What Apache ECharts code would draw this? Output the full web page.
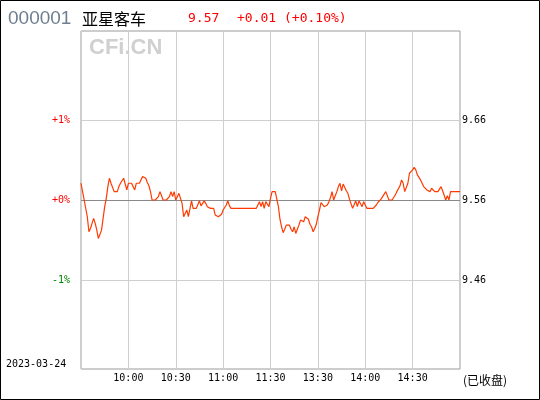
<!DOCTYPE html>
<html>
<head>
<meta charset="utf-8">
<script src="https://cdn.jsdelivr.net/npm/echarts@6/dist/echarts.min.js"></script>
<style>
html,body{margin:0;padding:0;background:#fff;}
#chart{width:540px;height:400px;}
</style>
</head>
<body>
<div id="chart"></div>
<script>
// ---- data ----
const stockCode = '000001';
const stockName = '亚星客车';
const lastPrice = '9.57';
const change = '+0.01';
const changePct = '(+0.10%)';
const tradeDate = '2023-03-24';
const statusText = '(已收盘)';
const prevClose = 9.56;
const timeLabels = ['10:00', '10:30', '11:00', '11:30', '13:30', '14:00', '14:30'];
const pctTicks = [-1, 0, 1];
// one price per minute, 241 points (09:30 .. 15:00)
const prices = [
  9.58, 9.57, 9.56, 9.56, 9.54, 9.522, 9.526, 9.532, 9.538, 9.532,
  9.524, 9.514, 9.512, 9.524, 9.525, 9.552, 9.562, 9.576, 9.586, 9.58,
  9.58, 9.57, 9.57, 9.57, 9.576, 9.58, 9.58, 9.586, 9.588, 9.572,
  9.58, 9.58, 9.58, 9.58, 9.572, 9.58, 9.58, 9.58, 9.58, 9.588,
  9.59, 9.586, 9.581, 9.577, 9.57, 9.56, 9.56, 9.56, 9.56, 9.564,
  9.57, 9.57, 9.56, 9.56, 9.56, 9.56, 9.564, 9.57, 9.564, 9.57,
  9.56, 9.564, 9.568, 9.57, 9.556, 9.54, 9.54, 9.548, 9.54, 9.54,
  9.559, 9.55, 9.55, 9.55, 9.552, 9.559, 9.553, 9.556, 9.559, 9.556,
  9.552, 9.55, 9.55, 9.55, 9.55, 9.542, 9.54, 9.54, 9.54, 9.543,
  9.548, 9.551, 9.554, 9.559, 9.553, 9.55, 9.55, 9.55, 9.55, 9.55,
  9.55, 9.55, 9.55, 9.55, 9.55, 9.55, 9.55, 9.55, 9.55, 9.55,
  9.55, 9.55, 9.55, 9.558, 9.552, 9.558, 9.55, 9.558, 9.556, 9.552,
  9.562, 9.57, 9.57, 9.57, 9.561, 9.552, 9.537, 9.528, 9.521, 9.525,
  9.53, 9.53, 9.53, 9.525, 9.522, 9.528, 9.52, 9.525, 9.53, 9.536,
  9.534, 9.534, 9.54, 9.54, 9.537, 9.531, 9.528, 9.522, 9.526, 9.531,
  9.54, 9.548, 9.557, 9.557, 9.552, 9.55, 9.554, 9.558, 9.563, 9.57,
  9.56, 9.565, 9.57, 9.576, 9.58, 9.571, 9.579, 9.577, 9.571, 9.568,
  9.561, 9.56, 9.55, 9.552, 9.559, 9.552, 9.559, 9.558, 9.552, 9.558,
  9.56, 9.55, 9.55, 9.55, 9.55, 9.55, 9.55, 9.554, 9.557, 9.559,
  9.561, 9.563, 9.567, 9.57, 9.568, 9.56, 9.56, 9.56, 9.56, 9.566,
  9.57, 9.57, 9.577, 9.584, 9.58, 9.57, 9.572, 9.58, 9.592, 9.594,
  9.596, 9.599, 9.596, 9.59, 9.588, 9.584, 9.58, 9.576, 9.574, 9.572,
  9.57, 9.57, 9.574, 9.574, 9.57, 9.57, 9.57, 9.572, 9.576, 9.571,
  9.57, 9.56, 9.565, 9.56, 9.57, 9.57, 9.57, 9.57, 9.57, 9.57,
  9.57
];

// ---- chart ----
const toPct = p => (p - prevClose) / prevClose * 100;
const lineData = prices.map((p, i) => [i, toPct(p)]);
const yRange = 2.1125;
const mono = 'DejaVu Sans Mono';

const chart = echarts.init(document.getElementById('chart'), null, {renderer: 'canvas'});
chart.setOption({
  animation: false,
  backgroundColor: '#ffffff',
  grid: {left: 81, right: 80, top: 31, bottom: 31, show: true, borderColor: '#9a9a9a', borderWidth: 1, backgroundColor: 'transparent'},
  xAxis: {
    type: 'value', min: 0, max: 240, interval: 30,
    axisLine: {show: false}, axisTick: {show: false},
    splitLine: {show: true, lineStyle: {color: '#cfcfcf', width: 1}},
    axisLabel: {
      margin: 4, color: '#000', fontFamily: mono, fontSize: 10,
      formatter: v => { const k = Math.round(v / 30) - 1; return (k >= 0 && k < timeLabels.length) ? timeLabels[k] : ''; }
    }
  },
  yAxis: [
    {
      type: 'value', min: -yRange, max: yRange, position: 'left',
      axisLine: {show: false}, axisTick: {show: false}, splitLine: {show: false},
      axisLabel: {
        customValues: pctTicks, margin: 11, fontFamily: mono, fontSize: 10,
        formatter: v => (v < 0 ? '{g|' + v + '%}' : '{r|+' + v + '%}'),
        rich: {r: {color: '#ff0000', fontFamily: mono, fontSize: 10}, g: {color: '#008000', fontFamily: mono, fontSize: 10}}
      }
    },
    {
      type: 'value', min: -yRange, max: yRange, position: 'right',
      axisLine: {show: false}, axisTick: {show: false}, splitLine: {show: false},
      axisLabel: {
        customValues: pctTicks, margin: 2, color: '#000', fontFamily: mono, fontSize: 10,
        formatter: v => (prevClose * (1 + v / 100)).toFixed(2)
      }
    }
  ],
  series: [
    {
      type: 'line', data: [[0, 0]], showSymbol: false, silent: true, z: 1,
      lineStyle: {opacity: 0},
      markLine: {
        silent: true, symbol: 'none', label: {show: false},
        data: pctTicks.map(v => ({yAxis: v, lineStyle: {color: v === 0 ? '#8a8a8a' : '#cfcfcf', width: 1, type: 'solid'}}))
      }
    },
    {
      type: 'line', data: lineData, showSymbol: false, z: 5,
      lineStyle: {color: '#ff3a00', width: 1.2}
    }
  ],
  graphic: [
    {type: 'rect', shape: {x: 0.5, y: 0.5, width: 539, height: 399}, style: {fill: 'none', stroke: '#000', lineWidth: 1}, z: 100},
    {type: 'text', left: 89, top: 37, z: 0, style: {text: 'CFi.CN', fill: '#d0d0d0', font: 'bold 22px "Liberation Sans"'}},
    {type: 'text', x: 8, y: 19, style: {text: stockCode, fill: '#6f7f8f', font: '19px "Liberation Sans"', textVerticalAlign: 'middle'}},
    {type: 'text', x: 82, y: 19, style: {text: stockName, fill: '#000', font: '16px "Noto Sans CJK SC"', textVerticalAlign: 'middle'}},
    {type: 'text', x: 188, y: 19, style: {text: lastPrice, fill: '#ff0000', font: '13px "DejaVu Sans Mono"', textVerticalAlign: 'middle'}},
    {type: 'text', x: 237, y: 19, style: {text: change, fill: '#ff0000', font: '13px "DejaVu Sans Mono"', textVerticalAlign: 'middle'}},
    {type: 'text', x: 284, y: 19, style: {text: changePct, fill: '#ff0000', font: '13px "DejaVu Sans Mono"', textVerticalAlign: 'middle'}},
    {type: 'text', x: 6, y: 364, style: {text: tradeDate, fill: '#000', font: '10px "DejaVu Sans Mono"', textVerticalAlign: 'middle'}},
    {type: 'text', x: 463, y: 380, style: {text: statusText, fill: '#000', font: '12px "Noto Sans CJK SC"', textVerticalAlign: 'middle'}}
  ]
});
</script>
</body>
</html>
